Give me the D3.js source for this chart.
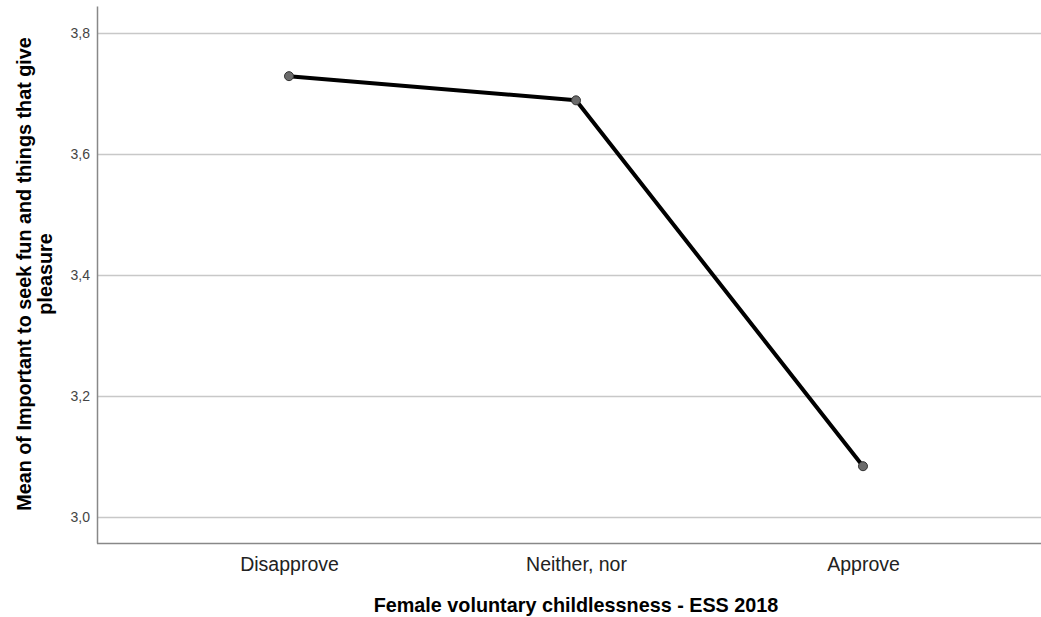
<!DOCTYPE html>
<html><head><meta charset="utf-8">
<script src="https://cdn.jsdelivr.net/npm/d3@7"></script>
<style>body{margin:0;background:#fff;} svg{display:block;font-family:"Liberation Sans",Arial,sans-serif;}</style>
</head><body>
<svg id="c" width="1041" height="617"></svg>
<script>
const categories = ["Disapprove", "Neither, nor", "Approve"];
const means = [3.729, 3.689, 3.084];
const yTicks = [3.0, 3.2, 3.4, 3.6, 3.8];
const xTitle = "Female voluntary childlessness - ESS 2018";
const yTitleLines = ["Mean of Important to seek fun and things that give", "pleasure"];

(function () {
const svg = d3.select("#c");
const pLeft = 97, pRight = 1055, pTop = 6, pBottom = 543;
const x = d3.scalePoint().domain(categories).range([pLeft, pRight]).padding(0.669);
const y = d3.scaleLinear().domain([2.957, 3.845]).range([pBottom, pTop]);
const fmt = d => d3.format(".1f")(d).replace(".", ",");

// gridlines
svg.append("g").selectAll("line").data(yTicks).join("line")
  .attr("x1", pLeft).attr("x2", 1041)
  .attr("y1", d => Math.round(y(d)) + 0.5).attr("y2", d => Math.round(y(d)) + 0.5)
  .attr("stroke", "#c8c8c8").attr("stroke-width", 1.5);

// y axis
const ya = svg.append("g").attr("transform", `translate(${pLeft},0)`)
  .call(d3.axisLeft(y).tickValues(yTicks).tickFormat(fmt).tickSize(0).tickPadding(7));
ya.select(".domain").attr("stroke", "#888").attr("stroke-width", 1.5);
ya.selectAll("text").attr("font-size", 14).attr("fill", "#444")
  .attr("font-family", "Liberation Sans, Arial, sans-serif");

// x axis
const xa = svg.append("g").attr("transform", `translate(0,${pBottom})`)
  .call(d3.axisBottom(x).tickSize(0).tickPadding(14));
xa.select(".domain").attr("d", `M${pLeft},0.5H1041`).attr("stroke", "#888").attr("stroke-width", 1.5);
xa.selectAll("text").attr("font-size", 19.5).attr("fill", "#222")
  .attr("font-family", "Liberation Sans, Arial, sans-serif");

// line
const line = d3.line().x((d, i) => x(categories[i])).y(d => y(d));
svg.append("path").datum(means).attr("d", line)
  .attr("fill", "none").attr("stroke", "#000").attr("stroke-width", 4)
  .attr("stroke-linejoin", "round");
svg.append("g").selectAll("circle").data(means).join("circle")
  .attr("cx", (d, i) => x(categories[i])).attr("cy", d => y(d)).attr("r", 4.5)
  .attr("fill", "#6b6b6b").attr("stroke", "#333").attr("stroke-width", 1);

// titles
svg.append("text").attr("x", 576).attr("y", 612).attr("text-anchor", "middle")
  .attr("font-size", 19.8).attr("font-weight", "bold").attr("fill", "#000").text(xTitle);
const yt = svg.append("text").attr("transform", "translate(31,274) rotate(-90)")
  .attr("text-anchor", "middle").attr("font-size", 19.8).attr("font-weight", "bold").attr("fill", "#000");
yTitleLines.forEach((t, i) => yt.append("tspan").attr("x", 0).attr("dy", i === 0 ? 0 : 21).text(t));
})();
</script>
</body></html>
